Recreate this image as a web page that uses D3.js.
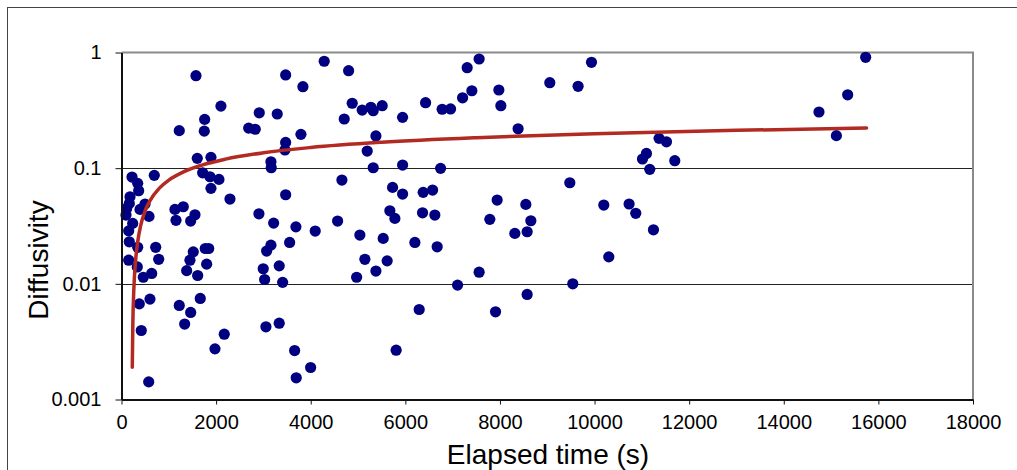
<!DOCTYPE html>
<html>
<head>
<meta charset="utf-8">
<script src="https://cdn.jsdelivr.net/npm/d3@7"></script>
<style>
html,body{margin:0;padding:0;background:#fff;}
svg{display:block;font-family:"Liberation Sans",Arial,sans-serif;}
</style>
</head>
<body>
<svg id="chart" width="1017" height="470"></svg>
<script>
// Elapsed time (s) of each measurement
const elapsedTime = [
1574,3470,4285,3835,2102,1758,2912,3292,1221,1750,2688,2827,3793,3470,3455,1602,1891,3159,3165,222,
693,1716,1870,2060,1891,342,363,3470,2293,180,165,497,110,391,95,581,1130,1306,1152,1553,
1462,2905,3216,3687,4095,237,152,165,342,723,3554,3159,3068,1517,1447,1771,1843,1800,152,334,
786,461,638,1378,1610,3334,2996,3026,3406,376,602,1221,1462,1665,1335,418,2172,1976,3053,3334,
3660,3998,3694,575,
4801,4877,5088,5272,5321,5511,4708,5942,6428,6778,6956,7210,7406,7307,7560,7977,8019,9054,8384,5378,
5194,5321,5942,6745,4659,5730,5942,6377,6576,7941,8547,5673,5779,6364,6624,4568,7786,8653,8315,8575,
5039,5532,6202,6673,5145,5616,5378,4970,7560,7104,6293,7907,8575,5806,
9935,9652,11364,11520,11097,11013,11696,11167,9477,10195,10730,10871,11245,10301,9540,
15731,15351,14744,15112
];
// Diffusivity of each measurement
const diffusivity = [
0.63,0.64,0.84,0.506,0.344,0.264,0.301,0.294,0.211,0.209,0.222,0.217,0.196,0.167,0.1435,0.1216,0.124,0.1136,0.1008,0.0838,
0.0867,0.0912,0.0843,0.080,0.0669,0.0739,0.0638,0.0589,0.0541,0.0566,0.0496,0.049,0.0449,0.044,0.0393,0.0383,0.044,0.0464,0.0354,0.0395,
0.0349,0.0403,0.0335,0.0311,0.0286,0.0333,0.0287,0.0231,0.0207,0.0207,0.0228,0.0216,0.0192,0.0189,0.016,0.0202,0.0202,0.0148,0.016,0.014,
0.0163,0.0114,0.0123,0.0130,0.0118,0.0143,0.0135,0.0109,0.0103,0.00671,0.00738,0.0065,0.00566,0.00748,0.00449,0.00395,0.00367,0.00274,0.00425,0.00457,
0.00265,0.00189,0.00154,0.00142,
0.696,0.364,0.318,0.336,0.314,0.347,0.266,0.275,0.368,0.323,0.325,0.406,0.467,0.739,0.879,0.474,0.347,0.548,0.219,0.190,
0.1406,0.1008,0.1064,0.0996,0.0789,0.0682,0.0597,0.0618,0.0647,0.053,0.0486,0.0428,0.0368,0.0411,0.0393,0.0349,0.0361,0.0351,0.0273,0.0282,
0.0264,0.0247,0.0228,0.0209,0.0163,0.0158,0.0129,0.0114,0.0126,0.00975,0.0060,0.00573,0.0081,0.00267,
0.823,0.510,0.181,0.169,0.134,0.120,0.116,0.0977,0.0748,0.048,0.049,0.0407,0.0293,0.0171,0.0100,
0.909,0.431,0.306,0.191
];
// Trend line
const trendTime = [228,240,260,300,350,400,500,600,800,1000,1300,1700,2200,3000,4000,5500,7500,10000,13000,15750];
const trendValue = [0.0019,0.0046,0.0088,0.0162,0.0242,0.0312,0.0428,0.0522,0.0672,0.0788,0.0925,0.1064,0.1198,0.1359,0.1509,0.1675,0.1836,0.1985,0.2122,0.2222];
// Axis ticks
const xTicks = [0,2000,4000,6000,8000,10000,12000,14000,16000,18000];
const yTicks = [0.001,0.01,0.1,1];
const yTickLabels = ["0.001","0.01","0.1","1"];
const xTitle = "Elapsed time (s)";
const yTitle = "Diffusivity";

const svg = d3.select("#chart");
const L = 121.5, R = 973, T = 52.5, B = 399.5;
const x = d3.scaleLinear().domain([0,18000]).range([L,R]);
const y = d3.scaleLog().domain([0.001,1]).range([B,T]);

// outer chart frame
svg.append("rect").attr("x",7.5).attr("y",7.5).attr("width",1030).attr("height",480)
  .attr("fill","none").attr("stroke","#444").attr("stroke-width",1);

// gridlines
svg.append("g").selectAll("line").data([0.01,0.1]).join("line")
  .attr("x1",L).attr("x2",R).attr("y1",d=>Math.round(y(d))+0.5).attr("y2",d=>Math.round(y(d))+0.5)
  .attr("stroke","#222").attr("stroke-width",1);

// plot-area border (top and right)
svg.append("path").attr("d",`M${L},${T}H${R}V${B}`).attr("fill","none")
  .attr("stroke","#8a8a8a").attr("stroke-width",2);

// points
const pts = elapsedTime.map((t,i)=>({t,v:diffusivity[i]}));
svg.append("g").selectAll("circle").data(pts).join("circle")
  .attr("cx",d=>x(d.t)).attr("cy",d=>y(d.v)).attr("r",5.6).attr("fill","#000080");

// trendline
const trend = trendTime.map((t,i)=>({t,v:trendValue[i]}));
svg.append("path").datum(trend)
  .attr("d",d3.line().x(d=>x(d.t)).y(d=>y(d.v)).curve(d3.curveMonotoneX))
  .attr("fill","none").attr("stroke","#b22a22").attr("stroke-width",3.5).attr("stroke-linecap","round");

// axes
const xAxis = d3.axisBottom(x).tickValues(xTicks).tickFormat(d3.format("d")).tickSize(5).tickSizeOuter(0);
const gx = svg.append("g").attr("transform",`translate(0,${B})`).call(xAxis);
gx.select(".domain").attr("stroke","#111").attr("stroke-width",2);
gx.selectAll(".tick line").attr("stroke","#111");
gx.selectAll("text").attr("font-size",20).attr("fill","#000").attr("dy","1.05em").attr("font-family","Liberation Sans, Arial");

const yAxis = d3.axisLeft(y).tickValues(yTicks).tickFormat((d,i)=>yTickLabels[i]).tickSize(6).tickSizeOuter(0);
const gy = svg.append("g").attr("transform",`translate(${L},0)`).call(yAxis);
gy.select(".domain").attr("stroke","#111").attr("stroke-width",2);
gy.selectAll(".tick line").attr("stroke","#111");
gy.selectAll("text").attr("font-size",20).attr("fill","#000").attr("x",-20).attr("font-family","Liberation Sans, Arial");

// titles
svg.append("text").attr("x",548).attr("y",464).attr("text-anchor","middle")
  .attr("font-size",28).attr("fill","#000").text(xTitle);
svg.append("text").attr("transform","translate(48,260) rotate(-90)").attr("text-anchor","middle")
  .attr("font-size",28).attr("fill","#000").text(yTitle);
</script>
</body>
</html>
